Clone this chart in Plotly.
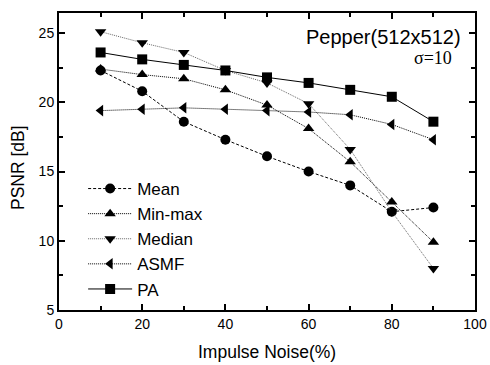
import plotly.graph_objects as go

noise = [10, 20, 30, 40, 50, 60, 70, 80, 90]
mean = [22.3, 20.8, 18.6, 17.3, 16.1, 15.0, 14.0, 12.1, 12.4]
minmax = [22.4, 22.0, 21.7, 20.9, 19.8, 18.1, 15.7, 12.8, 9.9]
median = [25.1, 24.3, 23.6, 22.3, 21.4, 19.9, 16.6, 12.1, 8.0]
asmf = [19.4, 19.5, 19.6, 19.5, 19.4, 19.3, 19.1, 18.4, 17.3]
pa = [23.6, 23.1, 22.7, 22.3, 21.8, 21.4, 20.9, 20.4, 18.6]

series = [
    ("Mean", mean, "circle", "3px,2px", "#000000"),
    ("Min-max", minmax, "triangle-up", "1px,1px", "#000000"),
    ("Median", median, "triangle-down", "1px,1px", "#666666"),
    ("ASMF", asmf, "triangle-left", "1px,1px", "#000000"),
    ("PA", pa, "square", "solid", "#000000"),
]

FONT = "Liberation Sans, Arial, sans-serif"

fig = go.Figure()
for name, vals, sym, dash, lc in series:
    fig.add_trace(go.Scatter(
        x=noise, y=vals, name=name, mode="lines+markers",
        line=dict(color=lc, width=1, dash=dash),
        marker=dict(symbol=sym, size=10, color="#000000"),
    ))

axis_common = dict(
    showline=True, linecolor="black", linewidth=2, mirror="allticks",
    ticks="inside", ticklen=6, tickwidth=2, tickcolor="black",
    showgrid=False, zeroline=False, automargin=False,
    tickfont=dict(family=FONT, size=14, color="black"),
    minor=dict(ticks="inside", ticklen=4, tickwidth=2, tickcolor="black"),
)

fig.update_xaxes(range=[0, 100], dtick=20, minor_dtick=10, **axis_common)
fig.update_yaxes(range=[5, 26.45], tick0=5, dtick=5, minor_dtick=2.5, **axis_common)

# axis titles
fig.add_annotation(x=0.5, y=0, xref="paper", yref="paper", xanchor="center", yanchor="middle",
                   yshift=-42, text="Impulse Noise(%)", showarrow=False,
                   font=dict(family=FONT, size=17.5, color="black"))
fig.add_annotation(x=0, y=0.478, xref="paper", yref="paper", xanchor="center", yanchor="middle",
                   xshift=-41, textangle=-90, text="PSNR [dB]", showarrow=False,
                   font=dict(family=FONT, size=17.5, color="black"))

fig.add_annotation(x=0.971, y=0.919, xref="paper", yref="paper", xanchor="right", yanchor="middle",
                   text="Pepper(512x512)", showarrow=False,
                   font=dict(family=FONT, size=20, color="black"))
fig.add_annotation(x=0.950, y=0.848, xref="paper", yref="paper", xanchor="right", yanchor="middle",
                   text="σ=10", showarrow=False,
                   font=dict(family="Liberation Serif, Times New Roman, serif", size=18, color="black"))

fig.update_layout(
    width=490, height=365,
    margin=dict(l=59, r=15, t=13, b=55),
    paper_bgcolor="white", plot_bgcolor="white",
    font=dict(family=FONT, color="black"),
    legend=dict(x=0.058, y=0.468, xanchor="left", yanchor="top",
                bgcolor="rgba(0,0,0,0)", font=dict(size=17, color="black"),
                tracegroupgap=0, itemwidth=44),
    showlegend=True,
)

fig.write_html("out.html", config={"displayModeBar": False},
               post_script="document.body.style.margin='0';document.body.style.padding='0';")
